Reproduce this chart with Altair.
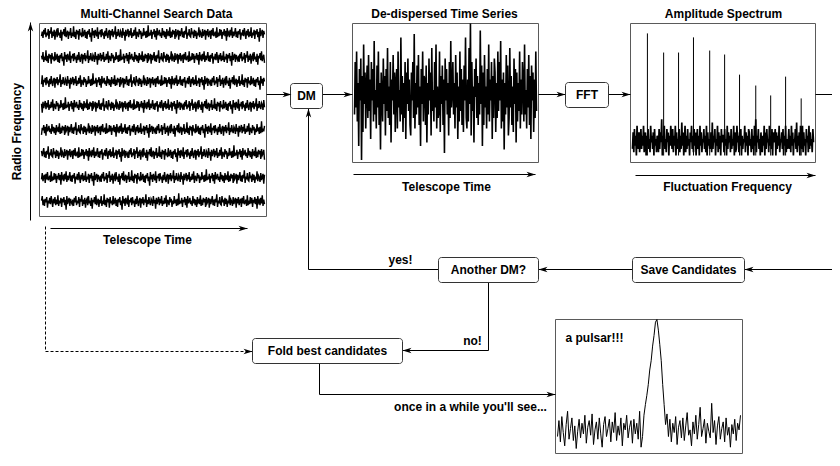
import altair as alt
import pandas as pd

# ---------------- data ----------------
CHANNEL_NOISE = [
    3, -2, 5, -4, 1, -6, 4, -1, 2, -5, 6, -3, 0, -7, 5, -2, 3, -4, 7, -1,
    -3, 4, -6, 2, -1, 5, -4, 8, -2, 1, -5, 3, -7, 4, 0, -3, 6, -2, 2, -6,
    5, -1, 3, -8, 4, -2, 6, -4, 1, -3, 7, -5, 2, -1, 4, -6, 3, 0, -4, 5,
    -2, 6, -3, 1, -5, 4, -1, 9, -6, 2, -3, 5, -4, 0, 3, -7, 6, -2, 1, -4,
    4, -5, 2, -1, 6, -3, 3, -6, 1, 5, -2, -4, 7, -3, 2, -5, 4, -1, 0, -8,
    6, -2, 3, -5, 1, 4, -3, -1, 5, -6, 2, -2, 8, -4, 3, -1, -5, 4, -3, 2,
    -6, 5, -1, 3, -4, 2, -7, 6, -2, 0, 4, -5, 1, -3, 6, -1, 3, -6, 2, -2,
    5, -3, 4, -9, 3, -1, 2, -4, 6, -2, 1, -5, 4, -3, 7, -6, 2, 0, -4, 3,
    -1, 5, -6, 2, -3, 4, -2, 6, -5, 1, -1, 3, -7, 5, -2, 4, -4, 1, -3, 6,
    -5, 2, 0, -4, 7, -3, 3, -1, -6, 4, -2, 5, -3, 1, -8, 6, -1, 2, -5, 3,
    4, -6, 1, -2, 5, -4, 3, -3, 6, -1, 2, -7, 4, -2, 0, 5, -5, 3, -1, -4,
    7, -3, 2, -5, 4, -1, -3, 6, -4, 2, -6, 3, 1, -2, 5, -7, 4, -1, 3, -5,
    2, -4, 6, -2, 0, -5, 3, -3, 8, -6, 1, -1, 4, -4, 2, -7, 5, -2, 3, -1,
    -6, 4, -2, 5, -3, 1, -5, 7, -1, 2, -4, 3, -6, 0, 6, -3, 2, -5, 4, -2,
    3, -7, 5, -1, 2, -4, 6, -3, 1, -5, 4, -2, 9, -6, 3, -1, -4, 5, -3, 1,
]
CHANNEL_SHIFT = [0, 37, 74, 111, 148, 185, 222, 259]
CHANNEL_GAIN = 0.0375

DEDISP_NOISE = [
    6, -9, 4, -12, 8, -3, 15, -7, 2, -10, 19, -5, 11, -14, 3, -6, 10, -2, -8, 7,
    -11, 5, -4, 13, -9, 2, -7, 8, -15, 6, -1, 10, -8, 4, -12, 9, -3, 16, -6, 1,
    8, -10, 3, -5, 12, -7, 5, -13, 7, -2, 9, -9, 14, -4, 2, -11, 6, -6, 11, -3,
    -7, 10, -12, 4, -1, 8, -16, 6, -5, 11, -3, 7, -9, 13, -6, 3, -10, 5, -4, 9,
    12, -6, 2, -9, 7, -17, 10, -3, 6, -8, 4, -11, 9, -2, 15, -7, 3, -12, 8, -5,
    -4, 9, -8, 14, -3, 6, -10, 2, -6, 12, -13, 5, -1, 8, -9, 4, -14, 10, -2, 7,
    5, -12, 11, -5, 3, -8, 9, -4, 17, -10, 2, -7, 6, -3, 12, -9, 7, -15, 4, -1,
    -9, 6, -3, 10, -11, 4, -6, 13, -2, 8, -12, 5, -7, 9, -4, 11, -8, 2, -16, 7,
    10, -4, 8, -13, 3, -20, 12, -9, 5, -2, 14, -7, 1, -10, 7, -5, 9, -3, 6, -18,
    3, -8, 15, -6, 9, -11, 4, -2, 10, -7, 6, -14, 8, -4, 2, -9, 13, -5, 7, -10,
    -6, 11, -3, 7, -12, 5, -9, 2, -15, 10, -4, 8, -6, 16, -3, 6, -11, 4, -8, 12,
    7, -13, 4, -5, 9, -2, 11, -10, 3, -7, 14, -6, 8, -3, 5, -12, 10, -4, 6, -9,
    -3, 8, -14, 6, -1, 10, -7, 4, -11, 9, -5, 13, -8, 2, -6, 11, -4, 7, -12, 5,
]

SPEC_NOISE = [
    2, 7, 1, 8, 3, 6, 0, 9, 4, 2, 7, 1, 5, 8, 2, 6, 3, 9, 1, 5,
    7, 0, 6, 3, 8, 2, 5, 1, 9, 4, 6, 2, 7, 0, 8, 3, 5, 1, 6, 4,
    1, 8, 2, 7, 4, 11, 0, 6, 3, 9, 2, 5, 1, 8, 4, 7, 0, 6, 3, 9,
    5, 2, 8, 1, 6, 3, 9, 0, 7, 2, 5, 4, 8, 1, 6, 2, 10, 3, 7, 0,
    4, 9, 1, 6, 2, 8, 3, 5, 0, 7, 4, 9, 2, 6, 1, 8, 3, 7, 0, 5,
    8, 2, 6, 0, 9, 3, 7, 1, 5, 4, 8, 2, 6, 1, 9, 0, 7, 3, 5, 2,
    3, 7, 1, 10, 2, 6, 4, 8, 0, 5, 3, 9, 1, 7, 2, 6, 0, 8, 4, 6,
    6, 1, 8, 3, 5, 0, 9, 2, 7, 4, 6, 1, 8, 2, 5, 3, 9, 0, 7, 1,
    2, 9, 4, 6, 1, 7, 3, 8, 0, 6, 2, 5, 4, 9, 1, 7, 3, 6, 0, 8,
    7, 3, 5, 1, 8, 2, 6, 0, 9, 3, 11, 1, 6, 4, 8, 2, 5, 0, 7, 3,
    1, 6, 3, 9, 0, 7, 2, 8, 4, 5, 1, 9, 3, 6, 2, 8, 0, 7, 4, 5,
    8, 0, 7, 2, 6, 3, 9, 1, 5, 4, 7, 2, 8, 0, 6, 3, 9, 1, 5, 2,
    4, 8, 2, 6, 1, 9, 3, 7, 0, 5, 4, 8, 2, 10, 1, 6, 3, 7, 0, 9,
    6, 2, 9, 1, 7, 3, 5, 0, 8, 4, 6, 1, 9, 2, 7, 3, 5, 1, 8, 4,
]
HARM_BIN = [23, 48, 71, 94, 119, 142, 165, 190, 213, 236, 260]
HARM_AMP = [37.0, 31.2, 31.2, 35.8, 31.8, 30.6, 24.5, 21.2, 18.2, 23.9, 17.3]

PROFILE = [
    12, 24, 8, 27, 15, 5, 21, 31, 10, 18, 26, 9, 20, 3, 16, 25, 11, 22, 14, 28,
    7, 19, 24, 13, 29, 6, 17, 23, 10, 26, 14, 4, 21, 27, 12, 18, 25, 8, 23, 15,
    30, 9, 20, 13, 26, 5, 22, 17, 28, 11, 19, 24, 7, 25, 14, 22, 10, 31, 4, 12,
    28, 36, 43, 51, 62, 69, 80, 88, 98, 100, 92, 81, 69, 51, 36, 21,
    29, 12, 25, 8, 22, 15, 27, 6, 19, 24, 11, 26, 9, 20, 30, 13, 17, 5, 23, 14,
    28, 10, 21, 34, 12, 18, 25, 7, 22, 16, 11, 37, 15, 24, 6, 20, 27, 10, 18, 23,
    8, 26, 13, 19, 4, 21, 14, 25, 9, 22, 17, 28,
]

PANEL_TITLES = ["Multi-Channel Search Data", "De-dispersed Time Series", "Amplitude Spectrum"]
AXIS_LABELS = ["Telescope Time", "Telescope Time", "Fluctuation Frequency"]
Y_LABEL = "Radio Frequency"
BOX_LABELS = ["DM", "FFT", "Save Candidates", "Another DM?", "Fold best candidates"]
NOTES = ["yes!", "no!", "once in a while you'll see..."]
PULSAR_NOTE = "a pulsar!!!"

# ---------------- layout (reference pixels) ----------------
OFF = 8
W, H = 824, 450
FONT = "Liberation Sans"

FRAMES = [(39, 266, 23, 216), (352, 538, 23, 162), (630, 815, 23, 162), (555, 742, 319, 453)]
BOXES = [(290, 322, 83, 108), (565, 608, 82, 107), (632, 744, 257, 282),
         (438, 538, 257, 282), (252, 402, 338, 363)]
TITLE_POS = [(156, 13), (444, 13), (723, 13)]
AXLAB_POS = [(147, 239), (446, 186), (727, 186)]
YLAB_POS = (16, 131)
NOTE_POS = [(400, 259), (472, 340), (470, 406)]
PULSAR_NOTE_POS = (565, 337)

PATHS = [
    [(266, 94), (291, 94)],
    [(322, 94), (352, 94)],
    [(538, 94), (565, 94)],
    [(608, 94), (630, 94)],
    [(815, 94), (840, 94)],
    [(840, 269), (744, 269)],
    [(632, 269), (538, 269)],
    [(438, 269), (308, 269), (308, 108)],
    [(488, 282), (488, 350), (402, 350)],
    [(319, 363), (319, 394), (555, 394)],
    [(30, 220), (30, 22)],
    [(50, 228), (247, 228)],
    [(353, 174), (535, 174)],
    [(635, 175), (815, 175)],
]
DASHED = [(45, 226), (45, 351), (252, 351)]
HEADS = [(291, 94, 0), (352, 94, 0), (565, 94, 0), (630, 94, 0), (744, 269, 180),
         (538, 269, 180), (308, 108, 270), (402, 350, 180), (555, 394, 0), (252, 351, 0),
         (30, 22, 270), (247, 228, 0), (535, 174, 0), (815, 175, 0)]
ARROW = "M0,0 L-1,-0.3 L-0.72,0 L-1,0.3 Z"

CH_SPAN = (41, 264, 33, 201)
DD_SPAN = (354, 536, 93)
SP_SPAN = (632, 813, 155, 23)
PR_SPAN = (557, 740, 452, 319)


def sc(domain, a, b):
    return alt.Scale(domain=domain, range=[a - OFF + 0.5, b - OFF + 0.5], nice=False, zero=False)


def PXs():
    return sc([OFF, OFF + W], OFF, OFF + W)


def PYs():
    return sc([OFF, OFF + H], OFF, OFF + H)


# ---------------- tables ----------------
frames_df = pd.DataFrame(FRAMES, columns=["x", "x2", "y", "y2"])
boxes_df = pd.DataFrame(BOXES, columns=["x", "x2", "y", "y2"])
boxes_df["label"] = BOX_LABELS
boxes_df["cx"] = (boxes_df.x + boxes_df.x2) / 2
boxes_df["cy"] = (boxes_df.y + boxes_df.y2) / 2

paths_rows = []
for p, pts in enumerate(PATHS):
    for s, (x, y) in enumerate(pts):
        paths_rows.append({"p": p, "s": s, "x": x, "y": y})
paths_df = pd.DataFrame(paths_rows)
dash_df = pd.DataFrame([{"s": s, "x": x, "y": y} for s, (x, y) in enumerate(DASHED)])
heads_df = pd.DataFrame(HEADS, columns=["x", "y", "a"])

center_text = pd.DataFrame(
    [{"t": t, "x": x, "y": y} for t, (x, y) in zip(PANEL_TITLES, TITLE_POS)]
    + [{"t": t, "x": x, "y": y} for t, (x, y) in zip(AXIS_LABELS, AXLAB_POS)]
    + [{"t": t, "x": x, "y": y} for t, (x, y) in zip(NOTES, NOTE_POS)]
    + [{"t": r.label, "x": r.cx, "y": r.cy} for r in boxes_df.itertuples()]
)
left_text = pd.DataFrame([{"t": PULSAR_NOTE, "x": PULSAR_NOTE_POS[0], "y": PULSAR_NOTE_POS[1]}])
rot_text = pd.DataFrame([{"t": Y_LABEL, "x": YLAB_POS[0], "y": YLAB_POS[1]}])

n_ch = len(CHANNEL_NOISE)
ch_rows = []
for k, shift in enumerate(CHANNEL_SHIFT):
    for i in range(n_ch):
        ch_rows.append({"ch": k, "i": i, "v": k + CHANNEL_NOISE[(i + shift) % n_ch] * CHANNEL_GAIN})
ch_df = pd.DataFrame(ch_rows)
dd_df = pd.DataFrame({"i": range(len(DEDISP_NOISE)), "v": DEDISP_NOISE})
sp_df = pd.DataFrame({"i": range(len(SPEC_NOISE)), "v": SPEC_NOISE})
hm_df = pd.DataFrame({"i": HARM_BIN, "v": HARM_AMP})
pr_df = pd.DataFrame({"i": range(len(PROFILE)), "v": PROFILE})

# ---------------- layers ----------------
frames = alt.Chart(frames_df).mark_rect(fill="transparent", stroke="#5a5a5a", strokeWidth=1).encode(
    x=alt.X("x:Q", scale=PXs(), axis=None), x2="x2:Q",
    y=alt.Y("y:Q", scale=PYs(), axis=None), y2="y2:Q")

lines = alt.Chart(paths_df).mark_line(color="black", strokeWidth=1).encode(
    x=alt.X("x:Q", scale=PXs(), axis=None), y=alt.Y("y:Q", scale=PYs(), axis=None),
    detail="p:N", order="s:Q")

dashed = alt.Chart(dash_df).mark_line(color="black", strokeWidth=1, strokeDash=[3, 2]).encode(
    x=alt.X("x:Q", scale=PXs(), axis=None), y=alt.Y("y:Q", scale=PYs(), axis=None), order="s:Q")

boxes = alt.Chart(boxes_df).mark_rect(fill="white", stroke="#333333", strokeWidth=1, cornerRadius=3).encode(
    x=alt.X("x:Q", scale=PXs(), axis=None), x2="x2:Q",
    y=alt.Y("y:Q", scale=PYs(), axis=None), y2="y2:Q")

heads = alt.Chart(heads_df).mark_point(shape=ARROW, filled=True, size=324, color="black", opacity=1,
                                       strokeWidth=0).encode(
    x=alt.X("x:Q", scale=PXs(), axis=None), y=alt.Y("y:Q", scale=PYs(), axis=None),
    angle=alt.Angle("a:Q", scale=None))

tcommon = dict(font=FONT, fontSize=12, fontWeight="bold", color="black", baseline="middle")
ctext = alt.Chart(center_text).mark_text(align="center", **tcommon).encode(
    x=alt.X("x:Q", scale=PXs(), axis=None), y=alt.Y("y:Q", scale=PYs(), axis=None), text="t:N")
ltext = alt.Chart(left_text).mark_text(align="left", **tcommon).encode(
    x=alt.X("x:Q", scale=PXs(), axis=None), y=alt.Y("y:Q", scale=PYs(), axis=None), text="t:N")
rtext = alt.Chart(rot_text).mark_text(align="center", angle=270, **tcommon).encode(
    x=alt.X("x:Q", scale=PXs(), axis=None), y=alt.Y("y:Q", scale=PYs(), axis=None), text="t:N")

channels = alt.Chart(ch_df).mark_line(color="black", strokeWidth=1.4).encode(
    x=alt.X("i:Q", scale=sc([0, n_ch - 1], CH_SPAN[0], CH_SPAN[1]), axis=None),
    y=alt.Y("v:Q", scale=sc([0, len(CHANNEL_SHIFT) - 1], CH_SPAN[2], CH_SPAN[3]), axis=None),
    detail="ch:N", order="i:Q")

dedisp = alt.Chart(dd_df).mark_line(color="black", strokeWidth=1.6).encode(
    x=alt.X("i:Q", scale=sc([0, len(DEDISP_NOISE) - 1], DD_SPAN[0], DD_SPAN[1]), axis=None),
    y=alt.Y("v:Q", scale=sc([-20, 20], DD_SPAN[2] - 70, DD_SPAN[2] + 70), axis=None),
    order="i:Q")

spec = alt.Chart(sp_df).mark_line(color="black", strokeWidth=1.7).encode(
    x=alt.X("i:Q", scale=sc([0, len(SPEC_NOISE) - 1], SP_SPAN[0], SP_SPAN[1]), axis=None),
    y=alt.Y("v:Q", scale=sc([0, 40], SP_SPAN[2], SP_SPAN[3]), axis=None),
    order="i:Q")

harm = alt.Chart(hm_df).mark_rule(color="black", strokeWidth=1).encode(
    x=alt.X("i:Q", scale=sc([0, len(SPEC_NOISE) - 1], SP_SPAN[0], SP_SPAN[1]), axis=None),
    y=alt.Y("v:Q", scale=sc([0, 40], SP_SPAN[2], SP_SPAN[3]), axis=None),
    y2=alt.datum(0))

prof = alt.Chart(pr_df).mark_line(color="black", strokeWidth=1).encode(
    x=alt.X("i:Q", scale=sc([0, len(PROFILE) - 1], PR_SPAN[0], PR_SPAN[1]), axis=None),
    y=alt.Y("v:Q", scale=sc([0, 100], PR_SPAN[2], PR_SPAN[3]), axis=None),
    order="i:Q")

chart = alt.layer(
    frames, channels, dedisp, spec, harm, prof, lines, dashed, boxes, heads, ctext, ltext, rtext
).resolve_scale(x="independent", y="independent").properties(
    width=W, height=H, padding=0, autosize=alt.AutoSizeParams(type="none"), background="white"
).configure_view(stroke=None)

chart.save("out.html", embed_options={"renderer": "svg", "actions": False})
